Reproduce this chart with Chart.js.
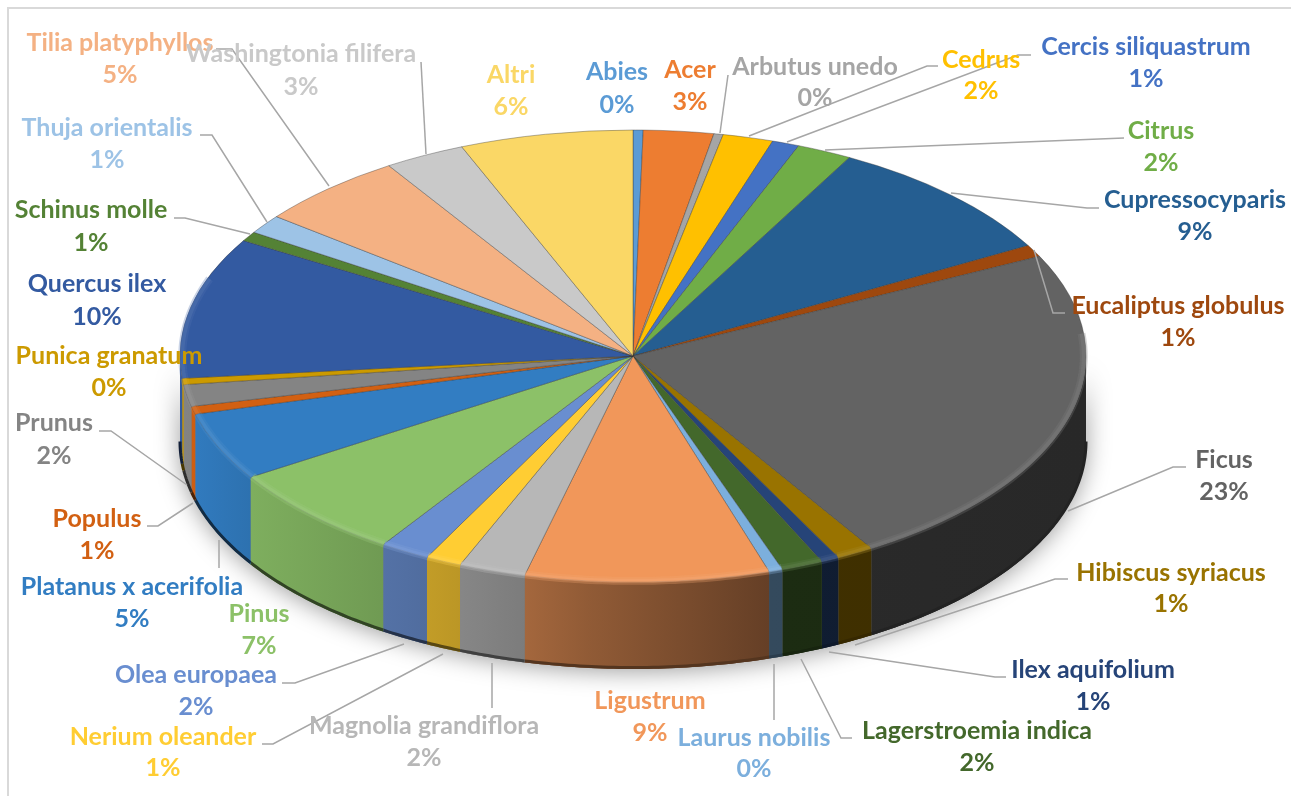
<!DOCTYPE html>
<html>
<head>
<meta charset="utf-8">
<title>Specie arboree</title>
<script src="https://cdn.jsdelivr.net/npm/chart.js@4"></script>
<style>
    body { margin: 0; background: #fff; }
    canvas { display: block; }
</style>
</head>
<body>
<canvas id="pie" width="1291" height="796"></canvas>
<script>
// Datos (porcentajes estimados a partir de los ángulos)
const species = ["Abies", "Acer", "Arbutus unedo", "Cedrus", "Cercis siliquastrum", "Citrus", "Cupressocyparis",
    "Eucaliptus globulus", "Ficus", "Hibiscus syriacus", "Ilex aquifolium", "Lagerstroemia indica", "Laurus nobilis",
    "Ligustrum", "Magnolia grandiflora", "Nerium oleander", "Olea europaea", "Pinus", "Platanus x acerifolia",
    "Populus", "Prunus", "Punica granatum", "Quercus ilex", "Schinus molle", "Thuja orientalis",
    "Tilia platyphyllos", "Washingtonia filifera", "Altri"];
const shares = [0.36, 2.5, 0.33, 1.8, 0.97, 1.97, 8.94, 0.86, 23.45, 1.33, 0.64, 1.5, 0.49, 8.7, 2.39, 1.28, 1.78,
    6.7, 4.86, 0.56, 1.56, 0.45, 10.1, 0.69, 1.36, 5.36, 2.89, 6.17];
const colors = ["#5b9bd5", "#ed7d31", "#a5a5a5", "#ffc000", "#4472c4", "#70ad47", "#255e91", "#9e480e", "#636363",
    "#997300", "#264478", "#43682b", "#7cafdd", "#f1975a", "#b7b7b7", "#ffcd33", "#698ed0", "#8cc168", "#327dc2",
    "#d26012", "#848484", "#cc9a00", "#335aa1", "#548235", "#9dc3e6", "#f4b183", "#c9c9c9", "#fad766"];

// Posición de cada etiqueta: centro x, línea 1 y, línea 2 y
const labelSpots = [[617, 72, 105], [690, 70, 102], [815, 67, 98], [981, 60, 91], [1146, 47, 79], [1161, 131, 163],
    [1195, 200, 232], [1178, 306, 338], [1224, 460, 492], [1171, 573, 604], [1093, 670, 702], [977, 731, 763],
    [754, 738, 769], [650, 701, 733], [424, 726, 758], [163, 737, 768], [196, 675, 707], [259, 614, 646],
    [132, 587, 619], [97, 519, 551], [54, 423, 456], [109, 356, 388], [97, 284, 317], [91, 210, 243],
    [107, 128, 160], [120, 43, 75], [301, 54, 87], [511, 75, 107]];

// Líneas guía de las etiquetas
const leaderPaths = [
    [[728, 75], [720, 133]],
    [[938, 66], [927, 66], [749, 136]],
    [[1031, 55], [1018, 55], [787, 142]],
    [[1124, 138], [825, 150]],
    [[1099, 208], [1087, 208], [951, 193]],
    [[1065, 313], [1053, 313], [1034, 250]],
    [[1186, 467], [1173, 467], [1068, 511]],
    [[1068, 579], [1055, 579], [855, 645]],
    [[1006, 677], [995, 677], [829, 652]],
    [[852, 738], [841, 738], [801, 659]],
    [[774, 720], [774, 664]],
    [[492, 708], [492, 663]],
    [[262, 744], [273, 744], [443, 654]],
    [[282, 683], [295, 683], [404, 644]],
    [[219, 568], [219, 540]],
    [[147, 526], [158, 526], [193, 503]],
    [[99, 431], [111, 431], [187, 485]],
    [[200, 135], [212, 135], [267, 222]],
    [[174, 218], [185, 218], [250, 234]],
    [[216, 49], [232, 49], [329, 186]],
    [[421, 62], [426, 154]]
];

// Geometría de la elipse en pantalla
const pieX = 633, pieY = 356, pieRx = 453, pieRy = 226, pieDepth = 87;
// Luz de la pared: de izquierda a derecha (posición relativa, factor)
const wallLight = [[0, 1], [0.08, 0.9], [0.25, 0.78], [0.38, 0.68], [0.45, 0.6], [0.65, 0.42], [1, 0.4]];

function shade(hex, f) {
    const n = parseInt(hex.slice(1), 16);
    const r = n >> 16, g = (n >> 8) & 255, b = n & 255;
    const c = v => Math.min(255, Math.round(f <= 1 ? v * f : v + (255 - v) * (f - 1)));
    return `rgb(${c(r)}, ${c(g)}, ${c(b)})`;
}

// Punto del borde de la elipse para un ángulo del arco
function rim(a, k = 1) {
    return [pieX + pieRx * k * Math.cos(a), pieY + pieRy * k * Math.sin(a)];
}

function traceRim(ctx, from, to, k, dy, move) {
    const steps = Math.max(2, Math.ceil(Math.abs(to - from) * 80));
    for (let s = 0; s <= steps; s++) {
        const p = rim(from + (to - from) * s / steps, k);
        if (s === 0 && move) ctx.moveTo(p[0], p[1] + dy);
        else ctx.lineTo(p[0], p[1] + dy);
    }
}

const pie3d = {
    id: "pie3d",
    beforeDraw(chart) {
        // Marco gris del gráfico
        const ctx = chart.ctx;
        ctx.save();
        ctx.strokeStyle = "#d9d9d9";
        ctx.lineWidth = 2;
        ctx.beginPath();
        ctx.moveTo(8, 796);
        ctx.lineTo(8, 8);
        ctx.lineTo(1291, 8);
        ctx.stroke();
        ctx.restore();
    },
    beforeDatasetsDraw(chart) {
        const ctx = chart.ctx;
        const arcs = chart.getDatasetMeta(0).data;

        // Sombra suave bajo la pared
        ctx.save();
        ctx.shadowColor = "rgba(0, 0, 0, 0.4)";
        ctx.shadowBlur = 24;
        ctx.shadowOffsetY = 2;
        ctx.fillStyle = "#777";
        ctx.beginPath();
        traceRim(ctx, 0, Math.PI, 1, 0, true);
        traceRim(ctx, Math.PI, 0, 1, pieDepth, false);
        ctx.closePath();
        ctx.fill();
        ctx.restore();

        // Pared lateral de cada porción visible
        arcs.forEach((arc, i) => {
            const from = Math.max(arc.startAngle, 0);
            const to = Math.min(arc.endAngle, Math.PI);
            if (to <= from) return;
            const grad = ctx.createLinearGradient(pieX - pieRx, 0, pieX + pieRx, 0);
            wallLight.forEach(stop => grad.addColorStop(stop[0], shade(colors[i], stop[1])));
            ctx.fillStyle = grad;
            ctx.beginPath();
            traceRim(ctx, from, to, 1, 0, true);
            traceRim(ctx, to, from, 1, pieDepth, false);
            ctx.closePath();
            ctx.fill();
            // Borde inferior más oscuro
            ctx.strokeStyle = shade(colors[i], 0.35);
            ctx.lineWidth = 3;
            ctx.beginPath();
            traceRim(ctx, from, to, 1, pieDepth - 1.5, true);
            ctx.stroke();
        });

        // Cara superior: la dibuja Chart.js con la elipse aplicada
        const first = arcs[0];
        ctx.save();
        ctx.translate(pieX, pieY);
        ctx.scale(pieRx / first.outerRadius, pieRy / first.outerRadius);
        ctx.translate(-first.x, -first.y);
    },
    afterDatasetsDraw(chart) {
        const ctx = chart.ctx;
        ctx.restore();
        const arcs = chart.getDatasetMeta(0).data;
        const total = shares.reduce((a, b) => a + b, 0);

        // Brillo del bisel en el borde frontal
        arcs.forEach((arc, i) => {
            const from = Math.max(arc.startAngle, -0.1);
            const to = Math.min(arc.endAngle, Math.PI + 0.35);
            if (to <= from) return;
            [[8, 0.3], [4, 0.5]].forEach(band => {
                ctx.save();
                ctx.globalAlpha = band[1];
                ctx.strokeStyle = shade(colors[i], 1.14);
                ctx.lineWidth = band[0];
                ctx.beginPath();
                traceRim(ctx, from, to, 0.995, 0, true);
                ctx.stroke();
                ctx.restore();
            });
        });

        // Líneas guía
        ctx.strokeStyle = "#a6a6a6";
        ctx.lineWidth = 1.5;
        leaderPaths.forEach(path => {
            ctx.beginPath();
            path.forEach((p, j) => j ? ctx.lineTo(p[0], p[1]) : ctx.moveTo(p[0], p[1]));
            ctx.stroke();
        });

        // Etiquetas con nombre y porcentaje
        ctx.font = "bold 25px Lato";
        ctx.textAlign = "center";
        ctx.textBaseline = "middle";
        species.forEach((name, i) => {
            const spot = labelSpots[i];
            ctx.fillStyle = colors[i];
            ctx.fillText(name, spot[0], spot[1]);
            ctx.fillText(Math.round(shares[i] / total * 100) + "%", spot[0], spot[2]);
        });
    }
};

new Chart(document.getElementById("pie"), {
    type: "pie",
    data: {
        labels: species,
        datasets: [{
            data: shares,
            backgroundColor: colors,
            borderColor: "rgba(50, 50, 50, 0.55)",
            borderWidth: 0.8
        }]
    },
    options: {
        responsive: false,
        animation: false,
        events: [],
        plugins: { legend: { display: false }, tooltip: { enabled: false } }
    },
    plugins: [pie3d]
});
</script>
</body>
</html>
